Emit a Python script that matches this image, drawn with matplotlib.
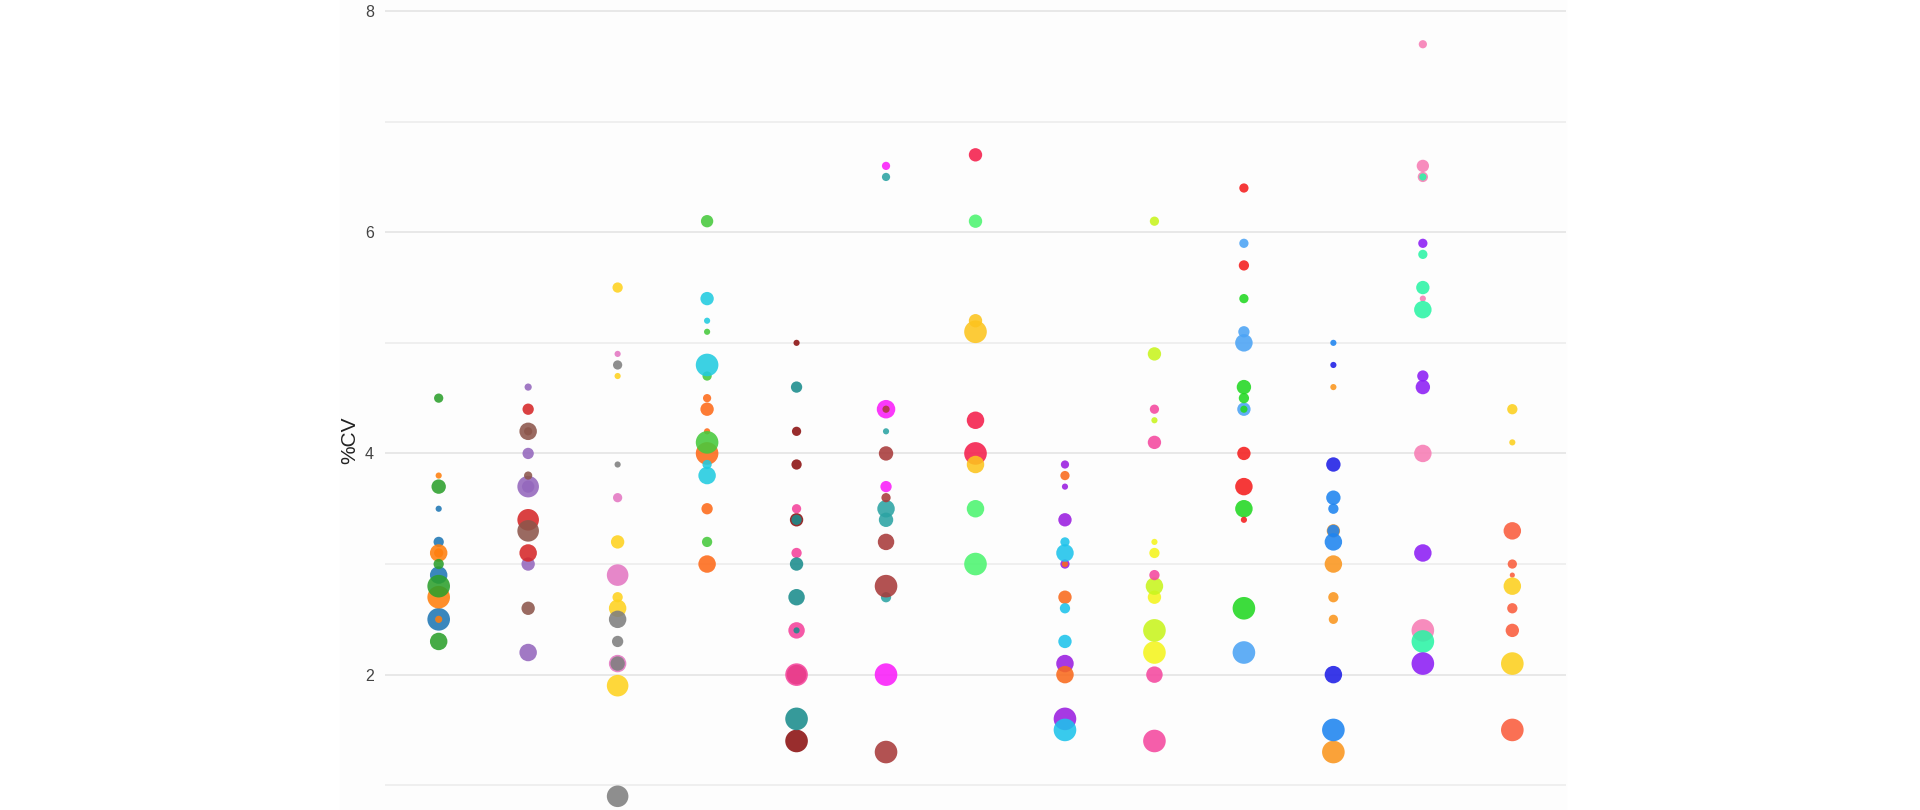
import matplotlib
matplotlib.use("Agg")
import matplotlib.pyplot as plt
from matplotlib.patches import Rectangle

# %CV per group, split into the three series of each group
col01_cv = [[3.5, 3.2, 2.9, 2.5], [3.8, 3.1, 3.1, 2.7, 2.5], [4.5, 3.7, 3.0, 2.8, 2.3]]
col01_n = [[6, 10, 17, 22], [6, 17, 9, 22, 7], [9, 14, 10, 22, 17]]
col02_cv = [[4.6, 4.0, 3.7, 3.7, 3.0, 2.2], [4.4, 3.4, 3.1], [4.2, 4.2, 3.8, 3.3, 2.6]]
col02_n = [[7, 11, 21, 12, 13, 17], [11, 21, 17], [17, 8, 8, 21, 13]]
col03_cv = [[4.9, 3.6, 2.9, 2.1], [5.5, 4.7, 3.2, 2.7, 2.6, 1.9], [4.8, 3.9, 2.5, 2.3, 2.1, 0.9]]
col03_n = [[6, 9, 21, 17], [10, 6, 13, 10, 17, 21], [9, 6, 17, 11, 14, 21]]
col04_cv = [[4.5, 4.4, 4.2, 4.0, 3.5, 3.0], [6.1, 5.1, 4.7, 4.1, 3.2], [5.4, 5.2, 4.8, 3.9, 3.8]]
col04_n = [[8, 13, 6, 22, 11, 17], [12, 6, 9, 22, 10], [13, 6, 22, 9, 17]]
col05_cv = [[5.0, 4.2, 3.9, 3.4, 2.0, 1.4], [3.5, 3.1, 2.4, 2.0], [4.6, 3.4, 3.0, 2.7, 2.4, 1.6]]
col05_n = [[6, 9, 10, 13, 19, 22], [9, 10, 16, 22], [11, 10, 13, 16, 6, 22]]
col06_cv = [[6.6, 4.4, 3.7, 2.0], [6.5, 4.2, 3.5, 3.4, 2.7], [4.4, 4.0, 3.6, 3.2, 2.8, 1.3]]
col06_n = [[8, 18, 11, 22], [8, 6, 17, 14, 10], [7, 14, 9, 16, 22, 22]]
col07_cv = [[6.1, 3.5, 3.0], [6.7, 4.3, 4.0], [5.2, 5.1, 3.9]]
col07_n = [[13, 17, 22], [13, 17, 22], [13, 22, 17]]
col08_cv = [[3.9, 3.7, 3.4, 3.0, 2.1, 1.6], [3.8, 3.0, 2.7, 2.0], [3.2, 3.1, 2.6, 2.3, 1.5]]
col08_n = [[8, 6, 13, 9, 17, 22], [9, 6, 13, 17], [9, 17, 10, 13, 22]]
col09_cv = [[3.2, 3.1, 2.7, 2.2], [6.1, 4.9, 4.3, 2.8, 2.4], [4.4, 4.1, 2.9, 2.0, 1.4]]
col09_n = [[6, 10, 13, 22], [9, 13, 6, 17, 22], [9, 13, 10, 16, 22]]
col10_cv = [[5.9, 5.1, 5.0, 4.4, 2.2], [5.4, 4.6, 4.5, 4.4, 3.5, 2.6], [6.4, 5.7, 4.0, 3.7, 3.4]]
col10_n = [[9, 11, 17, 13, 22], [9, 14, 10, 7, 17, 22], [9, 10, 13, 17, 6]]
col11_cv = [[4.6, 3.3, 3.0, 2.7, 2.5, 1.3], [5.0, 3.6, 3.5, 3.3, 3.2, 1.5], [4.8, 3.9, 2.0]]
col11_n = [[6, 13, 17, 10, 9, 22], [6, 14, 10, 12, 17, 22], [6, 14, 17]]
col12_cv = [[7.7, 6.6, 6.5, 5.4, 4.0, 2.4], [6.5, 5.8, 5.5, 5.3, 2.3], [5.9, 4.7, 4.6, 3.1, 2.1]]
col12_n = [[8, 12, 10, 6, 17, 22], [7, 9, 13, 17, 22], [9, 11, 14, 17, 22]]
col13_cv = [[3.3, 3.0, 2.9, 2.6, 2.4, 1.5], [4.4, 4.1, 2.8, 2.1]]
col13_n = [[17, 9, 5, 10, 13, 22], [10, 6, 17, 22]]

groups = [col01_cv, col02_cv, col03_cv, col04_cv, col05_cv, col06_cv, col07_cv,
          col08_cv, col09_cv, col10_cv, col11_cv, col12_cv, col13_cv]
sizes = [col01_n, col02_n, col03_n, col04_n, col05_n, col06_n, col07_n,
         col08_n, col09_n, col10_n, col11_n, col12_n, col13_n]

colors = [
    ['#1f77b4', '#ff7f0e', '#2ca02c'],
    ['#9467bd', '#d62728', '#8c564b'],
    ['#e377c2', '#ffd21f', '#7f7f7f'],
    ['#fe6a19', '#47c93c', '#21cbe0'],
    ['#8b1010', '#f5429b', '#1a8c8c'],
    ['#fa1efa', '#2ba3a3', '#a83a3a'],
    ['#4cf570', '#f51e4b', '#fcc41e'],
    ['#9a1ee0', '#f96a1c', '#1ec3eb'],
    ['#f5f51e', '#c8f51e', '#f5489f'],
    ['#4ba3f5', '#22d822', '#f51e1e'],
    ['#fa961e', '#1e84f0', '#1e1ee6'],
    ['#f77db4', '#2bf5a6', '#8c1ef5'],
    ['#fa5d3c', '#fcd01e'],
]

fig = plt.figure(figsize=(19.2, 8.1), dpi=100)
fig.patches.append(Rectangle((340 / 1920, 0), (1566 - 340) / 1920, 1,
                             transform=fig.transFigure, color='#fdfdfd', zorder=-10))
ax = fig.add_axes([385 / 1920, 0, 1181 / 1920, 1])
ax.set_facecolor('none')

for i, (grp, ns) in enumerate(zip(groups, sizes)):
    for k, (vals, n) in enumerate(zip(grp, ns)):
        ax.scatter([i] * len(vals), vals, s=[(d * 0.74) ** 2 for d in n],
                   color=colors[i][k], alpha=0.88, linewidths=0, zorder=3)

ax.set_xlim(-0.6, 12.6)
ax.set_ylim(0.776, 8.1)
ax.set_xticks([])
ax.set_yticks([2, 4, 6, 8])
ax.set_yticks([1, 3, 5, 7], minor=True)
ax.grid(True, which='major', axis='y', color='#e6e6e6', lw=1.3, zorder=0)
ax.grid(True, which='minor', axis='y', color='#eeeeee', lw=1.3, zorder=0)
ax.tick_params(axis='y', which='both', length=0, pad=8, labelsize=11.5, labelcolor='#444444')
for sp in ax.spines.values():
    sp.set_visible(False)

ax.set_ylabel('%CV', fontsize=15, color='#222222', family='Liberation Sans')
ax.yaxis.set_label_coords(-0.0215, 0.457)
for lbl in ax.get_yticklabels():
    lbl.set_family('Liberation Sans')

fig.savefig('out.png', dpi=100)
